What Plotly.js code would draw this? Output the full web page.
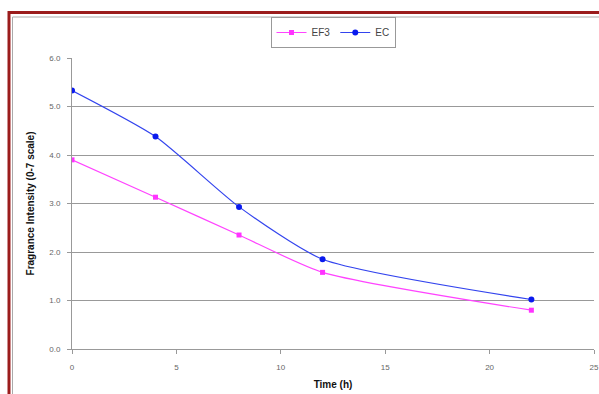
<!DOCTYPE html>
<html>
<head>
<meta charset="utf-8">
<script src="https://cdn.plot.ly/plotly-3.0.1.min.js"></script>
<style>html,body{margin:0;padding:0;background:#fff;}#chart{width:599px;height:394px;}</style>
</head>
<body>
<div id="chart"></div>
<script>
const timeH = [0, 4, 8, 12, 22];
const ef3 = [3.90, 3.13, 2.35, 1.58, 0.80];
const ec = [5.33, 4.38, 2.93, 1.85, 1.02];
const seriesNames = ["EF3", "EC"];
const xTitle = "Time (h)";
const yTitle = "Fragrance Intensity (0-7 scale)";

const L = 72, R = 594, T = 58, B = 349;
const px = x => (x - L) / (R - L);
const py = y => (B - y) / (B - T);

const traces = [
  {x: timeH, y: ef3, name: seriesNames[0], mode: "lines+markers",
   line: {color: "#ff44ff", width: 1.2, shape: "spline", smoothing: 0.6},
   marker: {color: "#ff33ff", size: 5, symbol: "square"}},
  {x: timeH, y: ec, name: seriesNames[1], mode: "lines+markers",
   line: {color: "#3344ee", width: 1.2, shape: "spline", smoothing: 0.6},
   marker: {color: "#0a1aee", size: 6, symbol: "circle"}}
];

const layout = {
  width: 599, height: 394,
  margin: {l: L, r: 599 - R, t: T, b: 394 - B, pad: 0},
  paper_bgcolor: "#fff", plot_bgcolor: "#fff",
  font: {family: "Liberation Sans, Arial, sans-serif", color: "#000"},
  showlegend: true,
  legend: {orientation: "h", x: px(333), xanchor: "center", y: py(17), yanchor: "top",
    bgcolor: "#fff", bordercolor: "#999", borderwidth: 1,
    font: {size: 10, color: "#444"}, itemwidth: 30, tracegroupgap: 0},
  xaxis: {range: [0, 25], dtick: 5, tick0: 0, showgrid: false, zeroline: false,
    showline: true, linecolor: "#999", linewidth: 1, ticks: "outside", ticklen: 4, tickcolor: "#999",
    ticklabelstandoff: 6,
    tickfont: {size: 8, color: "#666"}, fixedrange: true,
    title: {text: "<b>" + xTitle + "</b>", font: {size: 10, color: "#111"}, standoff: 10}},
  yaxis: {range: [0, 6], dtick: 1, tick0: 0, tickformat: ".1f", showgrid: true, gridcolor: "#999", gridwidth: 1,
    zeroline: false, showline: true, linecolor: "#999", linewidth: 1, ticks: "outside", ticklen: 4, tickcolor: "#999",
    ticklabelstandoff: 5,
    tickfont: {size: 8, color: "#666"}, fixedrange: true,
    title: {text: "<b>" + yTitle + "</b>", font: {size: 10, color: "#111"}, standoff: 12}},
  shapes: [
    {type: "rect", xref: "paper", yref: "paper", x0: px(9), x1: px(620), y0: py(12.5), y1: py(420),
     line: {color: "#9b1c1c", width: 3}, layer: "below"},
    {type: "rect", xref: "paper", yref: "paper", x0: px(12.5), x1: px(620), y0: py(17), y1: py(420),
     line: {color: "#aaa", width: 1}, layer: "below"}
  ]
};

Plotly.newPlot("chart", traces, layout, {staticPlot: true, displayModeBar: false});
</script>
</body>
</html>
